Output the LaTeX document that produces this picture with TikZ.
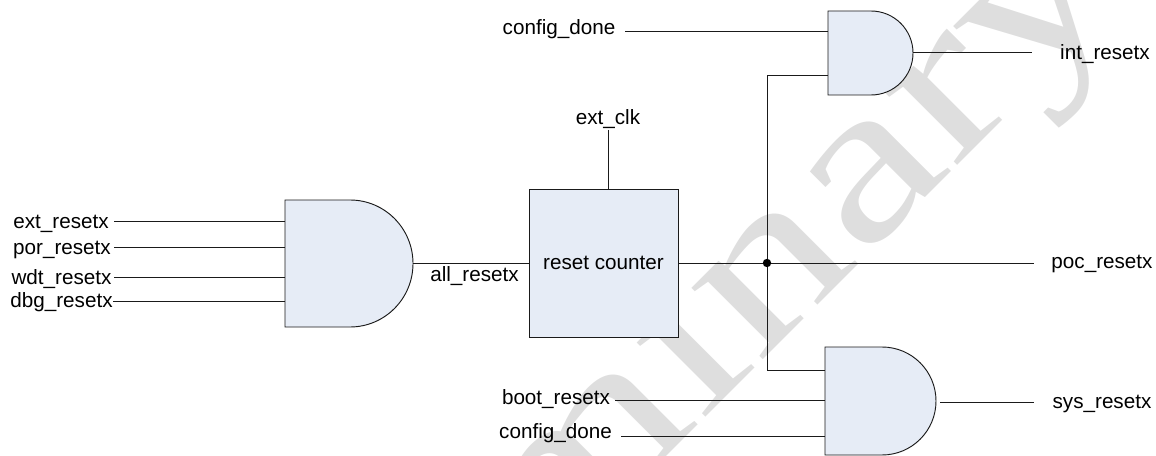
\documentclass[tikz,border=0pt]{standalone}
\usepackage{fontspec}
\setmainfont{Liberation Sans}
\newfontfamily\wmfont{Liberation Serif}
\definecolor{gatefill}{HTML}{E6ECF6}
\definecolor{wm}{HTML}{DEDEDE}
\definecolor{wire}{HTML}{1A1A1A}
\tikzset{
 gatebody/.style={draw=wire,fill=gatefill,line width=0.7pt},
 wireline/.style={draw=wire,line width=0.75pt},
 lbl/.style={inner sep=0pt,font=\fontsize{15.5pt}{15.5pt}\selectfont,anchor=base},
}
\newcommand{\andgate}[5]{% x, top, bottom, flat end x, tip x
 \draw[gatebody] (#1,#2) -- (#4,#2) .. controls ({#4+0.5523*(#5-#4)},#2) and (#5,{(#2+#3)/2-0.5523*(#3-#2)/2}) .. (#5,{(#2+#3)/2}) .. controls (#5,{(#2+#3)/2+0.5523*(#3-#2)/2}) and ({#4+0.5523*(#5-#4)},#3) .. (#4,#3) -- (#1,#3) -- cycle;
}
\begin{document}
\begin{tikzpicture}[x=0.75pt,y=-0.75pt]
\useasboundingbox (0,0) rectangle (1156,456);
\begin{scope}
\clip (0,0) rectangle (1156,456);
\node[rotate=45,text=wm,inner sep=0pt,anchor=base west,font=\wmfont\fontsize{165pt}{165pt}\selectfont] (mark) at (540,583) {\scalebox{1.33}[1]{minary}};
\end{scope}
% gates
\andgate{285}{200}{327}{350}{413}
\andgate{828}{11}{95}{871}{913}
\andgate{825}{347}{455}{882}{936}
\node[draw=wire,fill=gatefill,line width=0.7pt,minimum width=111.75pt,minimum height=111pt,inner sep=0pt,font=\fontsize{15.5pt}{15.5pt}\selectfont] (box) at (603.5,263) {reset counter};
% pins
\foreach \n/\x/\y in {a1/285/221,a2/285/247,a3/285/277,a4/285/301,ao/413/263,t1/828/32,t2/828/76,to/913/53,b1/825/370,b2/825/400,b3/825/436,bo/940/402}
 \coordinate (\n) at (\x,\y);
\coordinate (dot) at (767,263);
\coordinate (pocend) at (1034,263);
\coordinate (intend) at (1032,53);
\coordinate (sysend) at (1034,402);
\coordinate (clkend) at (608,130);
\coordinate (c1) at (114,221);
\coordinate (c2) at (114,247);
\coordinate (c3) at (114,277);
\coordinate (c4) at (113,301);
\coordinate (c5) at (625,32);
\coordinate (c6) at (615,400);
\coordinate (c7) at (621,436);
\draw[wireline] (c1)--(a1);
\draw[wireline] (c2)--(a2);
\draw[wireline] (c3)--(a3);
\draw[wireline] (c4)--(a4);
\draw[wireline] (ao)--(box.west |- ao);
\draw[wireline] (clkend)--(clkend |- box.north);
\draw[wireline] (box.east |- dot)--(pocend);
\draw[wireline] (t1)--(c5);
\draw[wireline] (t2)--(dot |- t2)--(dot |- b1)--(b1);
\draw[wireline] (to)--(intend);
\draw[wireline] (c6)--(b2);
\draw[wireline] (c7)--(b3);
\draw[wireline] (bo)--(sysend);
\fill[black] (dot) circle (4.2);
% labels
\node[lbl] (l1) at (61,228) {ext\_resetx};
\node[lbl] (l2) at (62,254) {por\_resetx};
\node[lbl] (l3) at (61.5,284) {wdt\_resetx};
\node[lbl] (l4) at (61.5,307) {dbg\_resetx};
\node[lbl] (l5) at (474.5,281) {all\_resetx};
\node[lbl] (l6) at (608,125) {ext\_clk};
\node[lbl] (l7) at (559,35) {config\_done};
\node[lbl] (l8) at (1105,60) {int\_resetx};
\node[lbl] (l9) at (1102,268) {poc\_resetx};
\node[lbl] (l10) at (1102,408) {sys\_resetx};
\node[lbl] (l11) at (556,404) {boot\_resetx};
\node[lbl] (l12) at (555.5,438) {config\_done};
\end{tikzpicture}
\end{document}
